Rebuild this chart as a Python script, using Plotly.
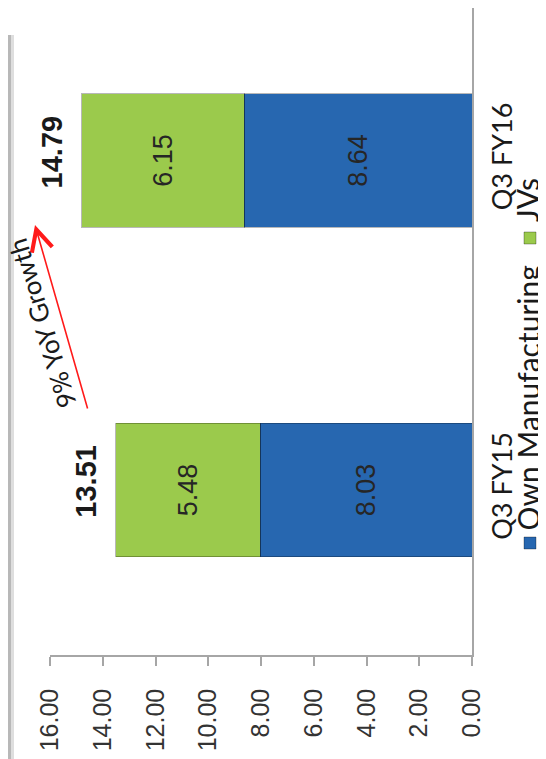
import plotly.graph_objects as go

# ---- data ----
categories = ["Q3 FY15", "Q3 FY16"]
own_manufacturing = [8.03, 8.64]
jvs = [5.48, 6.15]
totals = [13.51, 14.79]
series_names = ["Own Manufacturing", "JVs"]
series_colors = ["#2767B0", "#9BCA4C"]
x_ticks = [0, 2, 4, 6, 8, 10, 12, 14, 16]
growth_label = "9% YoY Growth"

# page body has an 8px margin: the figure sits at (8, 8) in the window
OFF = 8
W, H = 546 - OFF, 759 - OFF
ML, MR, MT, MB = 50 - OFF, 74, 0, 104
PW, PH = W - ML - MR, H - MT - MB


def px_to_paper_x(px):  # px: absolute window pixel
    return (px - OFF - ML) / PW


def px_to_paper_y(py):
    return 1 - (py - OFF - MT) / PH


fig = go.Figure()
for name, vals, col in zip(series_names, [own_manufacturing, jvs], series_colors):
    fig.add_trace(go.Bar(
        y=categories, x=vals, name=name, orientation="h",
        marker=dict(color=col, line=dict(color="rgba(0,0,0,0.28)", width=1)),
        width=0.404,
        text=[f"{v:.2f}" for v in vals],
        textposition="inside", insidetextanchor="middle", textangle=-90,
        textfont=dict(family="Liberation Sans Narrow, Liberation Sans, Arial", size=27, color="#262626"),
        showlegend=False,
    ))

annotations = []
# totals
for c, t in zip(categories, totals):
    annotations.append(dict(
        x=t, y=c, xref="x", yref="y", text=f"<b>{t:.2f}</b>", showarrow=False,
        textangle=-90, xanchor="right", yanchor="middle", xshift=-12, yshift=9,
        font=dict(family="Liberation Sans, Arial", size=29, color="#1a1a1a"),
    ))

# growth arrow: head at window (35, 225), tail at (88, 410)
annotations.append(dict(
    x=px_to_paper_x(35), y=px_to_paper_y(225), xref="paper", yref="paper",
    ax=88 - 35, ay=410 - 225,
    text="", showarrow=True, arrowhead=5, arrowsize=2.6, arrowwidth=1.6, arrowcolor="#FF1A1A",
))
annotations.append(dict(
    x=px_to_paper_x(42), y=px_to_paper_y(324), xref="paper", yref="paper",
    text=growth_label, showarrow=False, xanchor="center", yanchor="middle", borderpad=0,
    textangle=-107, font=dict(family="Lato, Open Sans", size=26, color="#1a1a1a"),
))

# custom rotated legend
legend_bottoms = [533, 224]
marker_tops = [537, 232]
shapes = []
for name, col, yb, mt in zip(series_names, series_colors, legend_bottoms, marker_tops):
    annotations.append(dict(
        x=px_to_paper_x(527), y=px_to_paper_y(yb), xref="paper", yref="paper",
        text=name, showarrow=False, textangle=-90, xanchor="center", yanchor="bottom",
        font=dict(family="Lato, Open Sans", size=30, color="#1a1a1a"),
    ))
    shapes.append(dict(
        type="rect", xref="paper", yref="paper",
        x0=px_to_paper_x(524), x1=px_to_paper_x(536),
        y0=px_to_paper_y(mt + 12), y1=px_to_paper_y(mt),
        fillcolor=col, line=dict(color="rgba(0,0,0,0.3)", width=1),
    ))

# slide border on the left
shapes.append(dict(type="rect", xref="paper", yref="paper",
                   x0=px_to_paper_x(8), x1=px_to_paper_x(11),
                   y0=px_to_paper_y(759), y1=px_to_paper_y(35),
                   fillcolor="#b8b8b8", line=dict(width=0), layer="below"))
shapes.append(dict(type="rect", xref="paper", yref="paper",
                   x0=px_to_paper_x(11), x1=px_to_paper_x(14),
                   y0=px_to_paper_y(759), y1=px_to_paper_y(35),
                   fillcolor="#dedede", line=dict(width=0), layer="below"))

# category centres at window y = 490 (Q3 FY15) and 160.5 (Q3 FY16)
unit = 490 - 160.5
y_lo = -(655 - 490) / unit
y_hi = 1 + (160.5 - OFF) / unit

fig.update_layout(
    width=W, height=H,
    margin=dict(l=ML, r=MR, t=MT, b=MB, pad=0),
    barmode="stack",
    plot_bgcolor="white", paper_bgcolor="white",
    showlegend=False,
    annotations=annotations, shapes=shapes,
    xaxis=dict(
        range=[16, 0], tickvals=x_ticks, ticktext=[f"{v:.2f}" for v in x_ticks],
        tickangle=-90, ticks="outside", ticklen=9, tickcolor="#a6a6a6", tickwidth=1.5,
        showline=True, linecolor="#a6a6a6", linewidth=1.5, showgrid=False, zeroline=False,
        tickfont=dict(family="Liberation Sans, Arial", size=25, color="#333333"),
        ticklabelstandoff=13, fixedrange=True,
    ),
    yaxis=dict(
        type="category", categoryorder="array", categoryarray=categories,
        range=[y_lo, y_hi], side="right", showline=True, linecolor="#a6a6a6", linewidth=1.5,
        ticks="", tickangle=-90, showgrid=False,
        tickfont=dict(family="Lato, Open Sans", size=27, color="#1a1a1a"),
        ticklabelstandoff=6, fixedrange=True,
    ),
)

fig.write_html("out.html")
